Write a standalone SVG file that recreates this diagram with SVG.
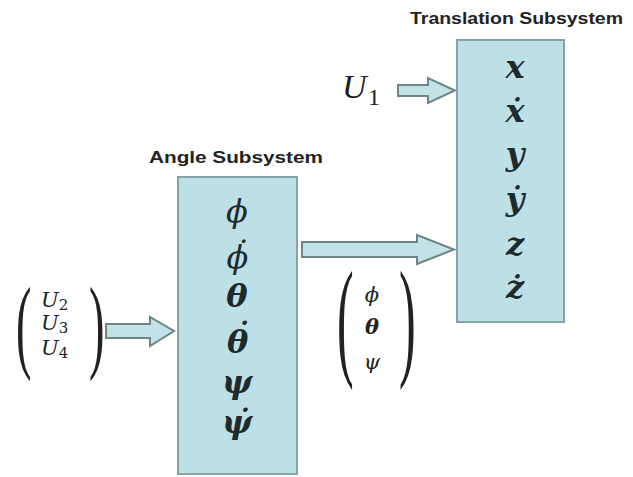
<svg xmlns="http://www.w3.org/2000/svg" width="633" height="477" viewBox="0 0 633 477">
<style>
.box{fill:#bde0e6;stroke:#86a3a7;stroke-width:2}
.arr{fill:#c3e2e7;stroke:#6d8588;stroke-width:2;stroke-linejoin:miter}
.title{font-family:"Liberation Sans",Arial,sans-serif;font-weight:bold;font-size:17px;fill:#222}
.m{font-family:"DejaVu Serif","Liberation Serif",serif;font-style:italic;font-size:32px;fill:#1e2a2c;text-anchor:middle}
.s{text-anchor:start}
.b{font-weight:bold}
.v{font-family:"DejaVu Serif","Liberation Serif",serif;font-style:italic;font-size:21px;fill:#222}
.p{font-family:"Liberation Serif",serif;fill:#222}
</style>
<rect width="633" height="477" fill="#ffffff"/>
<g id="connectors">
<path class="arr" d="M398,85 H428 V78 L455,90.5 L428,103 V96 H398 Z"/>
<path class="arr" d="M302,242 H417 V235 L454,249.5 L417,264 V257 H302 Z"/>
<path class="arr" d="M106,324 H150 V317 L174,331 L150,346 V338 H106 Z"/>
</g>
<g id="translation">
<rect class="box" x="457" y="40" width="107" height="282"/>
<text class="title" x="410" y="24" textLength="213" lengthAdjust="spacingAndGlyphs">Translation Subsystem</text>
<text class="m b" x="515" y="78">x</text>
<text class="m b" x="515" y="122">ẋ</text>
<text class="m b" x="515" y="165">y</text>
<text class="m b" x="515" y="210">ẏ</text>
<text class="m b" x="515" y="255">z</text>
<text class="m b" x="515" y="298">ż</text>
</g>
<g id="u1">
<text x="342" y="98" style="font-family:'Liberation Serif',serif;font-style:italic;font-size:34px;fill:#222">U</text>
<text x="368" y="105" style="font-family:'Liberation Serif',serif;font-size:24px;fill:#222">1</text>
</g>
<g id="angle">
<rect class="box" x="178" y="177" width="119" height="297"/>
<text class="title" x="149" y="163" textLength="174" lengthAdjust="spacingAndGlyphs">Angle Subsystem</text>
<text class="m" x="237" y="222">ϕ</text>
<text class="m s" x="226.5" y="268">ϕ<tspan dx="-15.5" dy="-4">˙</tspan></text>
<text class="m b" x="237" y="307">θ</text>
<text class="m b s" x="227" y="353">θ<tspan dx="-14" dy="-7">˙</tspan></text>
<text class="m b" x="237" y="393">ψ</text>
<text class="m b" x="237" y="433">ψ̇</text>
</g>
<g id="input-vector">
<text class="p" font-size="103" transform="translate(16,359) scale(0.45,1)">(</text>
<text class="v" x="41" y="307">U<tspan font-size="15" font-style="normal" dy="3">2</tspan></text>
<text class="v" x="41" y="330">U<tspan font-size="15" font-style="normal" dy="3">3</tspan></text>
<text class="v" x="41" y="355">U<tspan font-size="15" font-style="normal" dy="3">4</tspan></text>
<text class="p" font-size="103" transform="translate(89,359) scale(0.45,1)">)</text>
</g>
<g id="angle-vector">
<text class="p" font-size="132" transform="translate(337,362) scale(0.38,1)">(</text>
<text class="v" x="372" y="302" text-anchor="middle">ϕ</text>
<text class="v b" x="372" y="334" text-anchor="middle">θ</text>
<text class="v" x="372" y="369" text-anchor="middle">ψ</text>
<text class="p" font-size="132" transform="translate(399,362) scale(0.38,1)">)</text>
</g>
</svg>
